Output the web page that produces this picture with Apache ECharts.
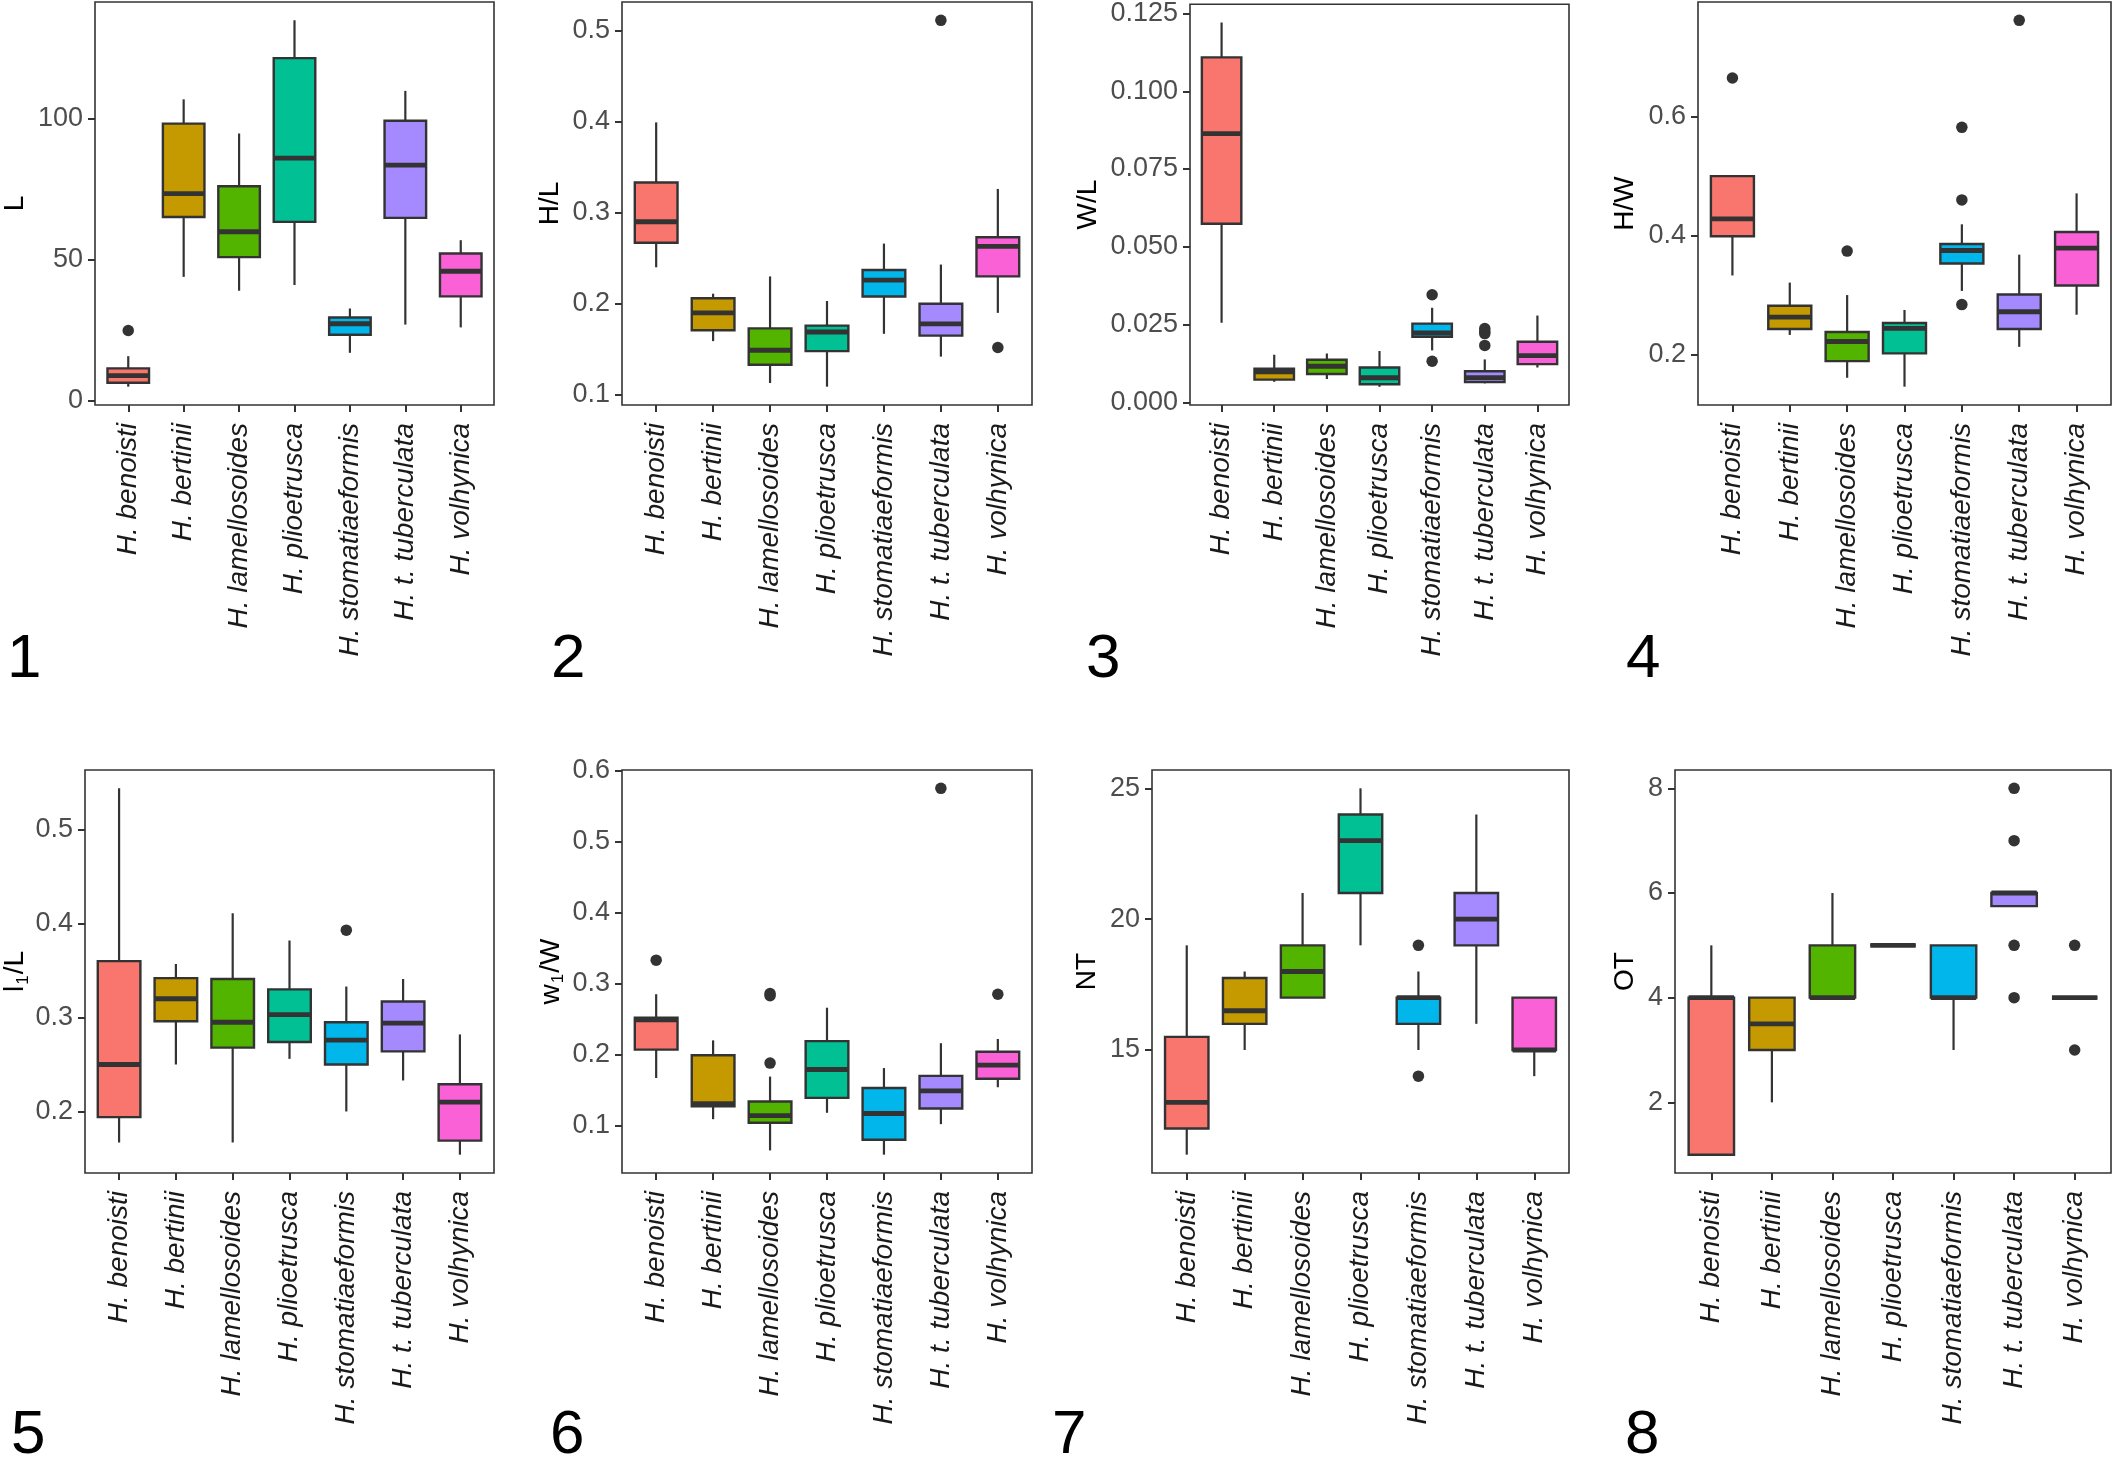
<!DOCTYPE html>
<html lang="en">
<head>
<meta charset="UTF-8">
<title>Shell measurements by species</title>
<script src="https://cdn.jsdelivr.net/npm/echarts@6.0.0/dist/echarts.min.js"></script>
<style>
    body { margin: 0; padding: 0; background: #fff; }
    #main { width: 2126px; height: 1460px; }
</style>
</head>
<body>
<div id="main"></div>
<script>
var species = ['H. benoisti', 'H. bertinii', 'H. lamellosoides', 'H. plioetrusca',
               'H. stomatiaeformis', 'H. t. tuberculata', 'H. volhynica'];
var colors = ['#F8766D', '#C49A00', '#53B400', '#00C094', '#00B6EB', '#A58AFF', '#FB61D7'];

// each row: [lower whisker, Q1, median, Q3, upper whisker], one row per species
var L_box = [[5.0, 6.4, 8.9, 11.5, 15.8], [43.9, 65.1, 73.4, 98.2, 106.8], [39.0, 50.9, 59.9, 76.0, 94.7],
             [41.0, 63.4, 86.0, 121.4, 134.8], [17.0, 23.4, 27.3, 29.5, 32.7], [27.0, 64.8, 83.5, 99.2, 109.8],
             [26.0, 37.0, 45.9, 52.2, 56.9]];
var L_out = [[0, 24.9]];
var L_ticks = ['0', '50', '100'];

var HL_box = [[0.240, 0.267, 0.290, 0.333, 0.399], [0.159, 0.171, 0.190, 0.206, 0.211], [0.113, 0.133, 0.149, 0.173, 0.230],
              [0.109, 0.148, 0.169, 0.176, 0.203], [0.167, 0.208, 0.226, 0.237, 0.266], [0.142, 0.165, 0.178, 0.200, 0.243],
              [0.190, 0.230, 0.263, 0.273, 0.326]];
var HL_out = [[5, 0.511], [6, 0.152]];
var HL_ticks = ['0.1', '0.2', '0.3', '0.4', '0.5'];

var WL_box = [[0.0256, 0.0574, 0.0864, 0.1109, 0.1221], [0.0066, 0.0073, 0.0098, 0.0108, 0.0153], [0.0075, 0.0091, 0.0116, 0.0137, 0.0157],
              [0.0050, 0.0058, 0.0079, 0.0112, 0.0165], [0.0167, 0.0211, 0.0223, 0.0253, 0.0304], [0.0061, 0.0065, 0.0079, 0.0100, 0.0138],
              [0.0112, 0.0123, 0.0150, 0.0195, 0.0279]];
var WL_out = [[4, 0.0346], [4, 0.0132], [5, 0.0237], [5, 0.0228], [5, 0.0221], [5, 0.0183]];
var WL_ticks = ['0.000', '0.025', '0.050', '0.075', '0.100', '0.125'];

var HW_box = [[0.333, 0.399, 0.428, 0.500, 0.500], [0.233, 0.243, 0.263, 0.282, 0.321], [0.161, 0.189, 0.222, 0.238, 0.300],
              [0.146, 0.202, 0.244, 0.253, 0.275], [0.307, 0.353, 0.375, 0.386, 0.419], [0.213, 0.243, 0.272, 0.301, 0.368],
              [0.267, 0.316, 0.379, 0.406, 0.471]];
var HW_out = [[0, 0.665], [2, 0.374], [4, 0.582], [4, 0.460], [4, 0.284], [5, 0.762]];
var HW_ticks = ['0.2', '0.4', '0.6'];

var l1L_box = [[0.167, 0.194, 0.250, 0.360, 0.544], [0.250, 0.296, 0.320, 0.342, 0.357], [0.167, 0.268, 0.295, 0.341, 0.411],
               [0.256, 0.274, 0.303, 0.330, 0.382], [0.200, 0.250, 0.276, 0.295, 0.333], [0.233, 0.264, 0.294, 0.317, 0.341],
               [0.154, 0.169, 0.210, 0.229, 0.282]];
var l1L_out = [[4, 0.393]];
var l1L_ticks = ['0.2', '0.3', '0.4', '0.5'];

var w1W_box = [[0.167, 0.207, 0.249, 0.252, 0.285], [0.109, 0.127, 0.131, 0.199, 0.220], [0.065, 0.104, 0.114, 0.134, 0.169],
               [0.118, 0.139, 0.179, 0.219, 0.266], [0.059, 0.080, 0.117, 0.153, 0.181], [0.102, 0.124, 0.149, 0.170, 0.216],
               [0.154, 0.166, 0.185, 0.204, 0.222]];
var w1W_out = [[0, 0.333], [2, 0.286], [2, 0.283], [2, 0.188], [5, 0.575], [6, 0.285]];
var w1W_ticks = ['0.1', '0.2', '0.3', '0.4', '0.5', '0.6'];

var NT_box = [[11, 12, 13, 15.5, 19], [15, 16, 16.5, 17.75, 18], [17, 17, 18, 19, 21], [19, 21, 23, 24, 25],
              [15, 16, 17, 17, 18], [16, 19, 20, 21, 24], [14, 15, 15, 17, 17]];
var NT_out = [[4, 19], [4, 14]];
var NT_ticks = ['15', '20', '25'];

var OT_box = [[1, 1, 4, 4, 5], [2, 3, 3.5, 4, 4], [4, 4, 4, 5, 6], [5, 5, 5, 5, 5],
              [3, 4, 4, 5, 5], [5.75, 5.75, 6, 6, 6], [4, 4, 4, 4, 4]];
var OT_out = [[5, 8], [5, 7], [5, 5], [5, 4], [6, 5], [6, 3]];
var OT_ticks = ['2', '4', '6', '8'];

var FONT = "'Liberation Sans', Arial, sans-serif";

var panels = [
    {name: 'L', box: L_box, out: L_out, ticks: L_ticks, left: 92, top: 2, width: 402, gap: 66, num: '1', nx: 7, ny: 659.5},
    {name: 'H/L', box: HL_box, out: HL_out, ticks: HL_ticks, left: 622, top: 2, width: 410, gap: 58, num: '2', nx: 551, ny: 659.5},
    {name: 'W/L', box: WL_box, out: WL_out, ticks: WL_ticks, left: 1190, top: 2, width: 379, gap: 88, num: '3', nx: 1086, ny: 659.5},
    {name: 'H/W', box: HW_box, out: HW_out, ticks: HW_ticks, left: 1698, top: 2, width: 413, gap: 59, num: '4', nx: 1626, ny: 659.5},
    {name: '{t|l}{s|1}{t|/L}', box: l1L_box, out: l1L_out, ticks: l1L_ticks, left: 85, top: 770, width: 409, gap: 53, num: '5', nx: 11, ny: 1435.5},
    {name: '{t|w}{s|1}{t|/W}', box: w1W_box, out: w1W_out, ticks: w1W_ticks, left: 622, top: 770, width: 410, gap: 55, num: '6', nx: 550, ny: 1435.5},
    {name: 'NT', box: NT_box, out: NT_out, ticks: NT_ticks, left: 1152, top: 770, width: 417, gap: 51, num: '7', nx: 1052, ny: 1435.5},
    {name: 'OT', box: OT_box, out: OT_out, ticks: OT_ticks, left: 1675, top: 770, width: 436, gap: 36, num: '8', nx: 1625, ny: 1435.5}
];

// y range like ggplot: data range plus 5% on each side
function yRange(box, out) {
    var vals = [];
    box.forEach(function (b) { vals.push(b[0], b[4]); });
    out.forEach(function (o) { vals.push(o[1]); });
    var lo = Math.min.apply(null, vals), hi = Math.max.apply(null, vals);
    var pad = (hi - lo) * 0.05;
    return [lo - pad, hi + pad];
}

function renderBox(params, api) {
    var i = api.value(0);
    var half = api.size([0.75, 0])[0] / 2;
    var pLo = api.coord([i, api.value(1)]);
    var pQ1 = api.coord([i, api.value(2)]);
    var pMed = api.coord([i, api.value(3)]);
    var pQ3 = api.coord([i, api.value(4)]);
    var pHi = api.coord([i, api.value(5)]);
    var x = pMed[0];
    return {
        type: 'group',
        children: [
            {type: 'line', shape: {x1: x, y1: pHi[1], x2: x, y2: pLo[1]},
             style: {stroke: '#333333', lineWidth: 2.2}},
            {type: 'rect', shape: {x: x - half, y: pQ3[1], width: half * 2, height: pQ1[1] - pQ3[1]},
             style: {fill: colors[i], stroke: '#333333', lineWidth: 2.4}},
            {type: 'line', shape: {x1: x - half, y1: pMed[1], x2: x + half, y2: pMed[1]},
             style: {stroke: '#333333', lineWidth: 4.8}}
        ]
    };
}

var grids = [], xAxes = [], yAxes = [], series = [], graphics = [];
var catIdx = species.map(function (s, i) { return i; });

panels.forEach(function (p, k) {
    var range = yRange(p.box, p.out);
    var tickVals = p.ticks.map(Number);
    grids.push({left: p.left, top: p.top, width: p.width, height: 403, show: true,
                borderColor: '#333333', borderWidth: 1.6, backgroundColor: 'transparent'});
    xAxes.push({
        type: 'value', gridIndex: k, min: -0.6, max: 6.6, position: 'bottom',
        axisLine: {show: false, onZero: false}, splitLine: {show: false},
        axisTick: {customValues: catIdx, length: 7, lineStyle: {color: '#333333', width: 2}},
        axisLabel: {customValues: catIdx, rotate: 90, margin: 18, fontSize: 28, fontStyle: 'italic',
                    fontFamily: FONT, color: '#1a1a1a',
                    formatter: function (v) { return species[Math.round(v)]; }}
    });
    yAxes.push({
        type: 'value', gridIndex: k, min: range[0], max: range[1], position: 'left',
        name: p.name, nameLocation: 'middle', nameRotate: 90, nameGap: p.gap,
        nameTextStyle: {fontSize: 28, fontFamily: FONT, color: '#000',
                        rich: {t: {fontSize: 28, fontFamily: FONT, color: '#000', lineHeight: 32},
                               s: {fontSize: 17, fontFamily: FONT, color: '#000', lineHeight: 17,
                                   verticalAlign: 'bottom', padding: [0, 1, 0, 1]}}},
        axisLine: {show: false, onZero: false}, splitLine: {show: false},
        axisTick: {customValues: tickVals, length: 7, lineStyle: {color: '#333333', width: 2}},
        axisLabel: {customValues: tickVals, margin: 12, fontSize: 27, fontFamily: FONT, color: '#4d4d4d',
                    formatter: function (v) {
                        for (var j = 0; j < tickVals.length; j++) {
                            if (Math.abs(tickVals[j] - v) < 1e-9) return p.ticks[j];
                        }
                        return '';
                    }}
    });
    series.push({
        type: 'custom', xAxisIndex: k, yAxisIndex: k,
        data: p.box.map(function (b, i) { return [i].concat(b); }),
        encode: {x: 0, y: [1, 2, 3, 4, 5]},
        renderItem: renderBox
    });
    series.push({
        type: 'scatter', xAxisIndex: k, yAxisIndex: k, z: 5,
        data: p.out, symbolSize: 11.5,
        itemStyle: {color: '#333333', opacity: 1}
    });
    graphics.push({type: 'text', style: {text: p.num, x: p.nx, y: p.ny, fontSize: 62, fontFamily: FONT,
                                         fill: '#000', align: 'left', verticalAlign: 'middle'}});
});

var chart = echarts.init(document.getElementById('main'), null, {renderer: 'canvas'});
chart.setOption({
    animation: false,
    backgroundColor: '#fff',
    grid: grids,
    xAxis: xAxes,
    yAxis: yAxes,
    series: series,
    graphic: graphics
});
</script>
</body>
</html>
